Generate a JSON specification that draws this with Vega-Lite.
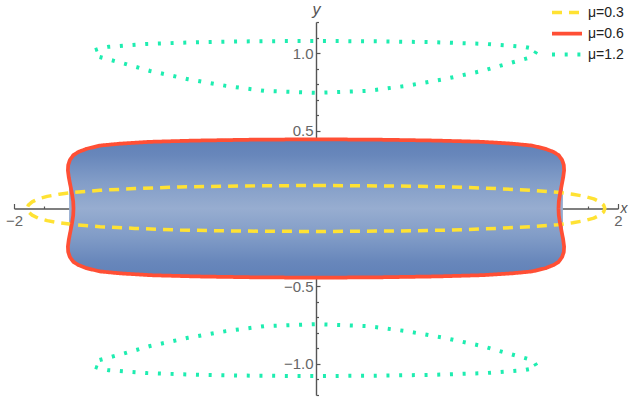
{
  "$schema": "https://vega.github.io/schema/vega-lite/v6.json",
  "width": 604,
  "height": 373,
  "autosize": {"type": "none"},
  "padding": {"left": 14, "top": 22, "right": 11, "bottom": 5},
  "background": "white",
  "config": {
    "view": {"stroke": null},
    "font": "Liberation Sans"
  },
  "datasets": {
    "region": [
      {"x": -1.635, "y": 0.28, "yb": -0.28},
      {"x": -1.62, "y": 0.325, "yb": -0.325},
      {"x": -1.6, "y": 0.35, "yb": -0.35},
      {"x": -1.57, "y": 0.368, "yb": -0.368},
      {"x": -1.52, "y": 0.39, "yb": -0.39},
      {"x": -1.43, "y": 0.41, "yb": -0.41},
      {"x": -1.3, "y": 0.423, "yb": -0.423},
      {"x": -1.1, "y": 0.434, "yb": -0.434},
      {"x": -0.8, "y": 0.441, "yb": -0.441},
      {"x": -0.4, "y": 0.447, "yb": -0.447},
      {"x": 0, "y": 0.449, "yb": -0.449},
      {"x": 0.4, "y": 0.447, "yb": -0.447},
      {"x": 0.8, "y": 0.441, "yb": -0.441},
      {"x": 1.1, "y": 0.434, "yb": -0.434},
      {"x": 1.3, "y": 0.423, "yb": -0.423},
      {"x": 1.43, "y": 0.41, "yb": -0.41},
      {"x": 1.52, "y": 0.39, "yb": -0.39},
      {"x": 1.57, "y": 0.368, "yb": -0.368},
      {"x": 1.6, "y": 0.35, "yb": -0.35},
      {"x": 1.62, "y": 0.325, "yb": -0.325},
      {"x": 1.635, "y": 0.28, "yb": -0.28}
    ],
    "curves": [
      {"s": "μ=0.3", "p": "a", "o": 1, "x": 0, "y": 0.148},
      {"s": "μ=0.3", "p": "a", "o": 2, "x": 0.5, "y": 0.145},
      {"s": "μ=0.3", "p": "a", "o": 3, "x": 0.9, "y": 0.139},
      {"s": "μ=0.3", "p": "a", "o": 4, "x": 1.2, "y": 0.128},
      {"s": "μ=0.3", "p": "a", "o": 5, "x": 1.43, "y": 0.117},
      {"s": "μ=0.3", "p": "a", "o": 6, "x": 1.6, "y": 0.104},
      {"s": "μ=0.3", "p": "a", "o": 7, "x": 1.7, "y": 0.092},
      {"s": "μ=0.3", "p": "a", "o": 8, "x": 1.78, "y": 0.078},
      {"s": "μ=0.3", "p": "a", "o": 9, "x": 1.84, "y": 0.062},
      {"s": "μ=0.3", "p": "a", "o": 10, "x": 1.88, "y": 0.043},
      {"s": "μ=0.3", "p": "a", "o": 11, "x": 1.905, "y": 0.022},
      {"s": "μ=0.3", "p": "a", "o": 12, "x": 1.913, "y": 0},
      {"s": "μ=0.3", "p": "a", "o": 13, "x": 1.905, "y": -0.022},
      {"s": "μ=0.3", "p": "a", "o": 14, "x": 1.88, "y": -0.043},
      {"s": "μ=0.3", "p": "a", "o": 15, "x": 1.84, "y": -0.062},
      {"s": "μ=0.3", "p": "a", "o": 16, "x": 1.78, "y": -0.078},
      {"s": "μ=0.3", "p": "a", "o": 17, "x": 1.7, "y": -0.092},
      {"s": "μ=0.3", "p": "a", "o": 18, "x": 1.6, "y": -0.104},
      {"s": "μ=0.3", "p": "a", "o": 19, "x": 1.43, "y": -0.117},
      {"s": "μ=0.3", "p": "a", "o": 20, "x": 1.2, "y": -0.128},
      {"s": "μ=0.3", "p": "a", "o": 21, "x": 0.9, "y": -0.139},
      {"s": "μ=0.3", "p": "a", "o": 22, "x": 0.5, "y": -0.145},
      {"s": "μ=0.3", "p": "a", "o": 23, "x": 0, "y": -0.148},
      {"s": "μ=0.3", "p": "a", "o": 24, "x": -0.5, "y": -0.145},
      {"s": "μ=0.3", "p": "a", "o": 25, "x": -0.9, "y": -0.139},
      {"s": "μ=0.3", "p": "a", "o": 26, "x": -1.2, "y": -0.128},
      {"s": "μ=0.3", "p": "a", "o": 27, "x": -1.43, "y": -0.117},
      {"s": "μ=0.3", "p": "a", "o": 28, "x": -1.6, "y": -0.104},
      {"s": "μ=0.3", "p": "a", "o": 29, "x": -1.7, "y": -0.092},
      {"s": "μ=0.3", "p": "a", "o": 30, "x": -1.78, "y": -0.078},
      {"s": "μ=0.3", "p": "a", "o": 31, "x": -1.84, "y": -0.062},
      {"s": "μ=0.3", "p": "a", "o": 32, "x": -1.88, "y": -0.043},
      {"s": "μ=0.3", "p": "a", "o": 33, "x": -1.905, "y": -0.022},
      {"s": "μ=0.3", "p": "a", "o": 34, "x": -1.913, "y": 0},
      {"s": "μ=0.3", "p": "a", "o": 35, "x": -1.905, "y": 0.022},
      {"s": "μ=0.3", "p": "a", "o": 36, "x": -1.88, "y": 0.043},
      {"s": "μ=0.3", "p": "a", "o": 37, "x": -1.84, "y": 0.062},
      {"s": "μ=0.3", "p": "a", "o": 38, "x": -1.78, "y": 0.078},
      {"s": "μ=0.3", "p": "a", "o": 39, "x": -1.7, "y": 0.092},
      {"s": "μ=0.3", "p": "a", "o": 40, "x": -1.6, "y": 0.104},
      {"s": "μ=0.3", "p": "a", "o": 41, "x": -1.43, "y": 0.117},
      {"s": "μ=0.3", "p": "a", "o": 42, "x": -1.2, "y": 0.128},
      {"s": "μ=0.3", "p": "a", "o": 43, "x": -0.9, "y": 0.139},
      {"s": "μ=0.3", "p": "a", "o": 44, "x": -0.5, "y": 0.145},
      {"s": "μ=0.3", "p": "a", "o": 45, "x": 0, "y": 0.148},

      {"s": "μ=0.6", "p": "b", "o": 1, "x": 0, "y": 0.445},
      {"s": "μ=0.6", "p": "b", "o": 2, "x": 0.4, "y": 0.443},
      {"s": "μ=0.6", "p": "b", "o": 3, "x": 0.8, "y": 0.437},
      {"s": "μ=0.6", "p": "b", "o": 4, "x": 1.1, "y": 0.429},
      {"s": "μ=0.6", "p": "b", "o": 5, "x": 1.3, "y": 0.417},
      {"s": "μ=0.6", "p": "b", "o": 6, "x": 1.43, "y": 0.405},
      {"s": "μ=0.6", "p": "b", "o": 7, "x": 1.52, "y": 0.384},
      {"s": "μ=0.6", "p": "b", "o": 8, "x": 1.575, "y": 0.363},
      {"s": "μ=0.6", "p": "b", "o": 9, "x": 1.607, "y": 0.343},
      {"s": "μ=0.6", "p": "b", "o": 10, "x": 1.63, "y": 0.312},
      {"s": "μ=0.6", "p": "b", "o": 11, "x": 1.641, "y": 0.28},
      {"s": "μ=0.6", "p": "b", "o": 12, "x": 1.643, "y": 0.245},
      {"s": "μ=0.6", "p": "b", "o": 13, "x": 1.637, "y": 0.2},
      {"s": "μ=0.6", "p": "b", "o": 14, "x": 1.627, "y": 0.15},
      {"s": "μ=0.6", "p": "b", "o": 15, "x": 1.616, "y": 0.095},
      {"s": "μ=0.6", "p": "b", "o": 16, "x": 1.608, "y": 0.045},
      {"s": "μ=0.6", "p": "b", "o": 17, "x": 1.606, "y": 0},
      {"s": "μ=0.6", "p": "b", "o": 18, "x": 1.608, "y": -0.045},
      {"s": "μ=0.6", "p": "b", "o": 19, "x": 1.616, "y": -0.095},
      {"s": "μ=0.6", "p": "b", "o": 20, "x": 1.627, "y": -0.15},
      {"s": "μ=0.6", "p": "b", "o": 21, "x": 1.637, "y": -0.2},
      {"s": "μ=0.6", "p": "b", "o": 22, "x": 1.643, "y": -0.245},
      {"s": "μ=0.6", "p": "b", "o": 23, "x": 1.641, "y": -0.28},
      {"s": "μ=0.6", "p": "b", "o": 24, "x": 1.63, "y": -0.312},
      {"s": "μ=0.6", "p": "b", "o": 25, "x": 1.607, "y": -0.343},
      {"s": "μ=0.6", "p": "b", "o": 26, "x": 1.575, "y": -0.363},
      {"s": "μ=0.6", "p": "b", "o": 27, "x": 1.52, "y": -0.384},
      {"s": "μ=0.6", "p": "b", "o": 28, "x": 1.43, "y": -0.405},
      {"s": "μ=0.6", "p": "b", "o": 29, "x": 1.3, "y": -0.417},
      {"s": "μ=0.6", "p": "b", "o": 30, "x": 1.1, "y": -0.429},
      {"s": "μ=0.6", "p": "b", "o": 31, "x": 0.8, "y": -0.437},
      {"s": "μ=0.6", "p": "b", "o": 32, "x": 0.4, "y": -0.443},
      {"s": "μ=0.6", "p": "b", "o": 33, "x": 0, "y": -0.445},
      {"s": "μ=0.6", "p": "b", "o": 34, "x": -0.4, "y": -0.443},
      {"s": "μ=0.6", "p": "b", "o": 35, "x": -0.8, "y": -0.437},
      {"s": "μ=0.6", "p": "b", "o": 36, "x": -1.1, "y": -0.429},
      {"s": "μ=0.6", "p": "b", "o": 37, "x": -1.3, "y": -0.417},
      {"s": "μ=0.6", "p": "b", "o": 38, "x": -1.43, "y": -0.405},
      {"s": "μ=0.6", "p": "b", "o": 39, "x": -1.52, "y": -0.384},
      {"s": "μ=0.6", "p": "b", "o": 40, "x": -1.575, "y": -0.363},
      {"s": "μ=0.6", "p": "b", "o": 41, "x": -1.607, "y": -0.343},
      {"s": "μ=0.6", "p": "b", "o": 42, "x": -1.63, "y": -0.312},
      {"s": "μ=0.6", "p": "b", "o": 43, "x": -1.641, "y": -0.28},
      {"s": "μ=0.6", "p": "b", "o": 44, "x": -1.643, "y": -0.245},
      {"s": "μ=0.6", "p": "b", "o": 45, "x": -1.637, "y": -0.2},
      {"s": "μ=0.6", "p": "b", "o": 46, "x": -1.627, "y": -0.15},
      {"s": "μ=0.6", "p": "b", "o": 47, "x": -1.616, "y": -0.095},
      {"s": "μ=0.6", "p": "b", "o": 48, "x": -1.608, "y": -0.045},
      {"s": "μ=0.6", "p": "b", "o": 49, "x": -1.606, "y": 0},
      {"s": "μ=0.6", "p": "b", "o": 50, "x": -1.608, "y": 0.045},
      {"s": "μ=0.6", "p": "b", "o": 51, "x": -1.616, "y": 0.095},
      {"s": "μ=0.6", "p": "b", "o": 52, "x": -1.627, "y": 0.15},
      {"s": "μ=0.6", "p": "b", "o": 53, "x": -1.637, "y": 0.2},
      {"s": "μ=0.6", "p": "b", "o": 54, "x": -1.643, "y": 0.245},
      {"s": "μ=0.6", "p": "b", "o": 55, "x": -1.641, "y": 0.28},
      {"s": "μ=0.6", "p": "b", "o": 56, "x": -1.63, "y": 0.312},
      {"s": "μ=0.6", "p": "b", "o": 57, "x": -1.607, "y": 0.343},
      {"s": "μ=0.6", "p": "b", "o": 58, "x": -1.575, "y": 0.363},
      {"s": "μ=0.6", "p": "b", "o": 59, "x": -1.52, "y": 0.384},
      {"s": "μ=0.6", "p": "b", "o": 60, "x": -1.43, "y": 0.405},
      {"s": "μ=0.6", "p": "b", "o": 61, "x": -1.3, "y": 0.417},
      {"s": "μ=0.6", "p": "b", "o": 62, "x": -1.1, "y": 0.429},
      {"s": "μ=0.6", "p": "b", "o": 63, "x": -0.8, "y": 0.437},
      {"s": "μ=0.6", "p": "b", "o": 64, "x": -0.4, "y": 0.443},
      {"s": "μ=0.6", "p": "b", "o": 65, "x": 0, "y": 0.445},

      {"s": "μ=1.2", "p": "c", "o": 1, "x": -1.464, "y": 1.019},
      {"s": "μ=1.2", "p": "c", "o": 2, "x": -1.43, "y": 1.03},
      {"s": "μ=1.2", "p": "c", "o": 3, "x": -1.377, "y": 1.04},
      {"s": "μ=1.2", "p": "c", "o": 4, "x": -1.25, "y": 1.05},
      {"s": "μ=1.2", "p": "c", "o": 5, "x": -1.119, "y": 1.059},
      {"s": "μ=1.2", "p": "c", "o": 6, "x": -0.781, "y": 1.07},
      {"s": "μ=1.2", "p": "c", "o": 7, "x": -0.4, "y": 1.076},
      {"s": "μ=1.2", "p": "c", "o": 8, "x": 0, "y": 1.078},
      {"s": "μ=1.2", "p": "c", "o": 9, "x": 0.4, "y": 1.076},
      {"s": "μ=1.2", "p": "c", "o": 10, "x": 0.781, "y": 1.07},
      {"s": "μ=1.2", "p": "c", "o": 11, "x": 1.119, "y": 1.059},
      {"s": "μ=1.2", "p": "c", "o": 12, "x": 1.25, "y": 1.05},
      {"s": "μ=1.2", "p": "c", "o": 13, "x": 1.377, "y": 1.04},
      {"s": "μ=1.2", "p": "c", "o": 14, "x": 1.43, "y": 1.03},
      {"s": "μ=1.2", "p": "c", "o": 15, "x": 1.464, "y": 1.019},
      {"s": "μ=1.2", "p": "c", "o": 16, "x": 1.437, "y": 0.976},
      {"s": "μ=1.2", "p": "c", "o": 17, "x": 1.258, "y": 0.929},
      {"s": "μ=1.2", "p": "c", "o": 18, "x": 1.099, "y": 0.885},
      {"s": "μ=1.2", "p": "c", "o": 19, "x": 0.848, "y": 0.832},
      {"s": "μ=1.2", "p": "c", "o": 20, "x": 0.596, "y": 0.789},
      {"s": "μ=1.2", "p": "c", "o": 21, "x": 0.344, "y": 0.757},
      {"s": "μ=1.2", "p": "c", "o": 22, "x": 0, "y": 0.744},
      {"s": "μ=1.2", "p": "c", "o": 23, "x": -0.344, "y": 0.757},
      {"s": "μ=1.2", "p": "c", "o": 24, "x": -0.596, "y": 0.789},
      {"s": "μ=1.2", "p": "c", "o": 25, "x": -0.848, "y": 0.832},
      {"s": "μ=1.2", "p": "c", "o": 26, "x": -1.099, "y": 0.885},
      {"s": "μ=1.2", "p": "c", "o": 27, "x": -1.258, "y": 0.929},
      {"s": "μ=1.2", "p": "c", "o": 28, "x": -1.437, "y": 0.976},
      {"s": "μ=1.2", "p": "c", "o": 29, "x": -1.464, "y": 1.019},

      {"s": "μ=1.2", "p": "d", "o": 1, "x": -1.464, "y": -1.019},
      {"s": "μ=1.2", "p": "d", "o": 2, "x": -1.43, "y": -1.03},
      {"s": "μ=1.2", "p": "d", "o": 3, "x": -1.377, "y": -1.04},
      {"s": "μ=1.2", "p": "d", "o": 4, "x": -1.25, "y": -1.05},
      {"s": "μ=1.2", "p": "d", "o": 5, "x": -1.119, "y": -1.059},
      {"s": "μ=1.2", "p": "d", "o": 6, "x": -0.781, "y": -1.07},
      {"s": "μ=1.2", "p": "d", "o": 7, "x": -0.4, "y": -1.076},
      {"s": "μ=1.2", "p": "d", "o": 8, "x": 0, "y": -1.078},
      {"s": "μ=1.2", "p": "d", "o": 9, "x": 0.4, "y": -1.076},
      {"s": "μ=1.2", "p": "d", "o": 10, "x": 0.781, "y": -1.07},
      {"s": "μ=1.2", "p": "d", "o": 11, "x": 1.119, "y": -1.059},
      {"s": "μ=1.2", "p": "d", "o": 12, "x": 1.25, "y": -1.05},
      {"s": "μ=1.2", "p": "d", "o": 13, "x": 1.377, "y": -1.04},
      {"s": "μ=1.2", "p": "d", "o": 14, "x": 1.43, "y": -1.03},
      {"s": "μ=1.2", "p": "d", "o": 15, "x": 1.464, "y": -1.019},
      {"s": "μ=1.2", "p": "d", "o": 16, "x": 1.437, "y": -0.976},
      {"s": "μ=1.2", "p": "d", "o": 17, "x": 1.258, "y": -0.929},
      {"s": "μ=1.2", "p": "d", "o": 18, "x": 1.099, "y": -0.885},
      {"s": "μ=1.2", "p": "d", "o": 19, "x": 0.848, "y": -0.832},
      {"s": "μ=1.2", "p": "d", "o": 20, "x": 0.596, "y": -0.789},
      {"s": "μ=1.2", "p": "d", "o": 21, "x": 0.344, "y": -0.757},
      {"s": "μ=1.2", "p": "d", "o": 22, "x": 0, "y": -0.744},
      {"s": "μ=1.2", "p": "d", "o": 23, "x": -0.344, "y": -0.757},
      {"s": "μ=1.2", "p": "d", "o": 24, "x": -0.596, "y": -0.789},
      {"s": "μ=1.2", "p": "d", "o": 25, "x": -0.848, "y": -0.832},
      {"s": "μ=1.2", "p": "d", "o": 26, "x": -1.099, "y": -0.885},
      {"s": "μ=1.2", "p": "d", "o": 27, "x": -1.258, "y": -0.929},
      {"s": "μ=1.2", "p": "d", "o": 28, "x": -1.437, "y": -0.976},
      {"s": "μ=1.2", "p": "d", "o": 29, "x": -1.464, "y": -1.019}
    ]
  },
  "encoding": {
    "x": {
      "field": "x",
      "type": "quantitative",
      "scale": {"domain": [-2, 2], "nice": false, "zero": false},
      "axis": {
        "offset": -186.5,
        "values": [-2, -1.8, -1.6, -1.4, -1.2, -1, -0.8, -0.6, -0.4, -0.2, 0.2, 0.4, 0.6, 0.8, 1, 1.2, 1.4, 1.6, 1.8, 2],
        "grid": false,
        "domainColor": "#555555",
        "domainWidth": 1.4,
        "tickColor": "#555555",
        "tickWidth": 1.2,
        "tickSize": {"condition": {"test": "abs(datum.value - round(datum.value)) < 0.001", "value": -5}, "value": -2.5},
        "labelExpr": "abs(datum.value - round(datum.value)) < 0.001 ? replace(format(datum.value, 'd'), '-', '−\u2009') : ''",
        "labelColor": "#666666",
        "labelFontSize": 15,
        "labelPadding": 10,
        "labelOverlap": false,
        "labelFlush": false,
        "labelBound": false,
        "title": "x",
        "titleFontStyle": "italic",
        "titleFontWeight": "normal",
        "titleFontSize": 14,
        "titleColor": "#555555",
        "titleX": 606,
        "titleY": 4,
        "titleAlign": "left",
        "titleBaseline": "alphabetic"
      }
    },
    "y": {
      "field": "y",
      "type": "quantitative",
      "scale": {"domain": [-1.2, 1.2], "nice": false, "zero": false},
      "axis": {
        "offset": -302,
        "values": [-1.2, -1.1, -1, -0.9, -0.8, -0.7, -0.6, -0.5, -0.4, -0.3, -0.2, -0.1, 0.1, 0.2, 0.3, 0.4, 0.5, 0.6, 0.7, 0.8, 0.9, 1, 1.1, 1.2],
        "grid": false,
        "domainColor": "#555555",
        "domainWidth": 1.4,
        "tickColor": "#555555",
        "tickWidth": 1.2,
        "tickSize": {"condition": {"test": "abs(datum.value * 2 - round(datum.value * 2)) < 0.001", "value": -4}, "value": -2.5},
        "labelExpr": "abs(datum.value * 2 - round(datum.value * 2)) < 0.001 ? replace(format(datum.value, '.1f'), '-', '−\u2009') : ''",
        "labelColor": "#666666",
        "labelFontSize": 15,
        "labelPadding": 7,
        "labelOverlap": false,
        "labelFlush": false,
        "labelBound": false,
        "title": "y",
        "titleFontStyle": "italic",
        "titleFontWeight": "normal",
        "titleFontSize": 16,
        "titleColor": "#555555",
        "titleAngle": 0,
        "titleX": 0,
        "titleY": -8,
        "titleAlign": "center",
        "titleBaseline": "alphabetic"
      }
    }
  },
  "layer": [
    {
      "data": {"name": "region"},
      "mark": {
        "type": "area",
        "color": {
          "gradient": "linear",
          "x1": 0, "y1": 0, "x2": 0, "y2": 1,
          "stops": [
            {"offset": 0, "color": "#6080B7"},
            {"offset": 0.12, "color": "#6887BB"},
            {"offset": 0.3, "color": "#819CC7"},
            {"offset": 0.5, "color": "#97ADD0"},
            {"offset": 0.7, "color": "#819CC7"},
            {"offset": 0.88, "color": "#6887BB"},
            {"offset": 1, "color": "#6080B7"}
          ]
        }
      },
      "encoding": {
        "y2": {"field": "yb"}
      }
    },
    {
      "data": {"name": "curves"},
      "mark": {"type": "line", "strokeCap": "butt", "strokeJoin": "round"},
      "encoding": {
        "detail": {"field": "p"},
        "order": {"field": "o", "type": "quantitative"},
        "color": {
          "field": "s",
          "type": "nominal",
          "scale": {"domain": ["μ=0.3", "μ=0.6", "μ=1.2"], "range": ["#FFE233", "#FF4F35", "#1EEDB0"]},
          "legend": {
            "title": null,
            "orient": "none",
            "legendX": 536,
            "legendY": -19,
            "symbolType": "stroke",
            "symbolSize": 900,
            "clipHeight": 19,
            "rowPadding": 2,
            "labelFontSize": 14,
            "labelColor": "#222222",
            "labelOffset": 4,
            "padding": 0,
            "encode": {"symbols": {"update": {
              "strokeDash": {"signal": "datum.value === 'μ=1.2' ? [3, 3] : datum.value === 'μ=0.3' ? [10.7, 7.3] : [1, 0]"},
              "strokeWidth": {"signal": "datum.value === 'μ=0.6' ? 4 : 3.5"}
            }}}
          }
        },
        "strokeDash": {
          "field": "s",
          "type": "nominal",
          "scale": {"domain": ["μ=0.3", "μ=0.6", "μ=1.2"], "range": [[10, 7], [1, 0], [3, 9.7]]},
          "legend": null
        },
        "strokeWidth": {
          "field": "s",
          "type": "nominal",
          "scale": {"domain": ["μ=0.3", "μ=0.6", "μ=1.2"], "range": [3.5, 4, 3]},
          "legend": null
        }
      }
    }
  ]
}
